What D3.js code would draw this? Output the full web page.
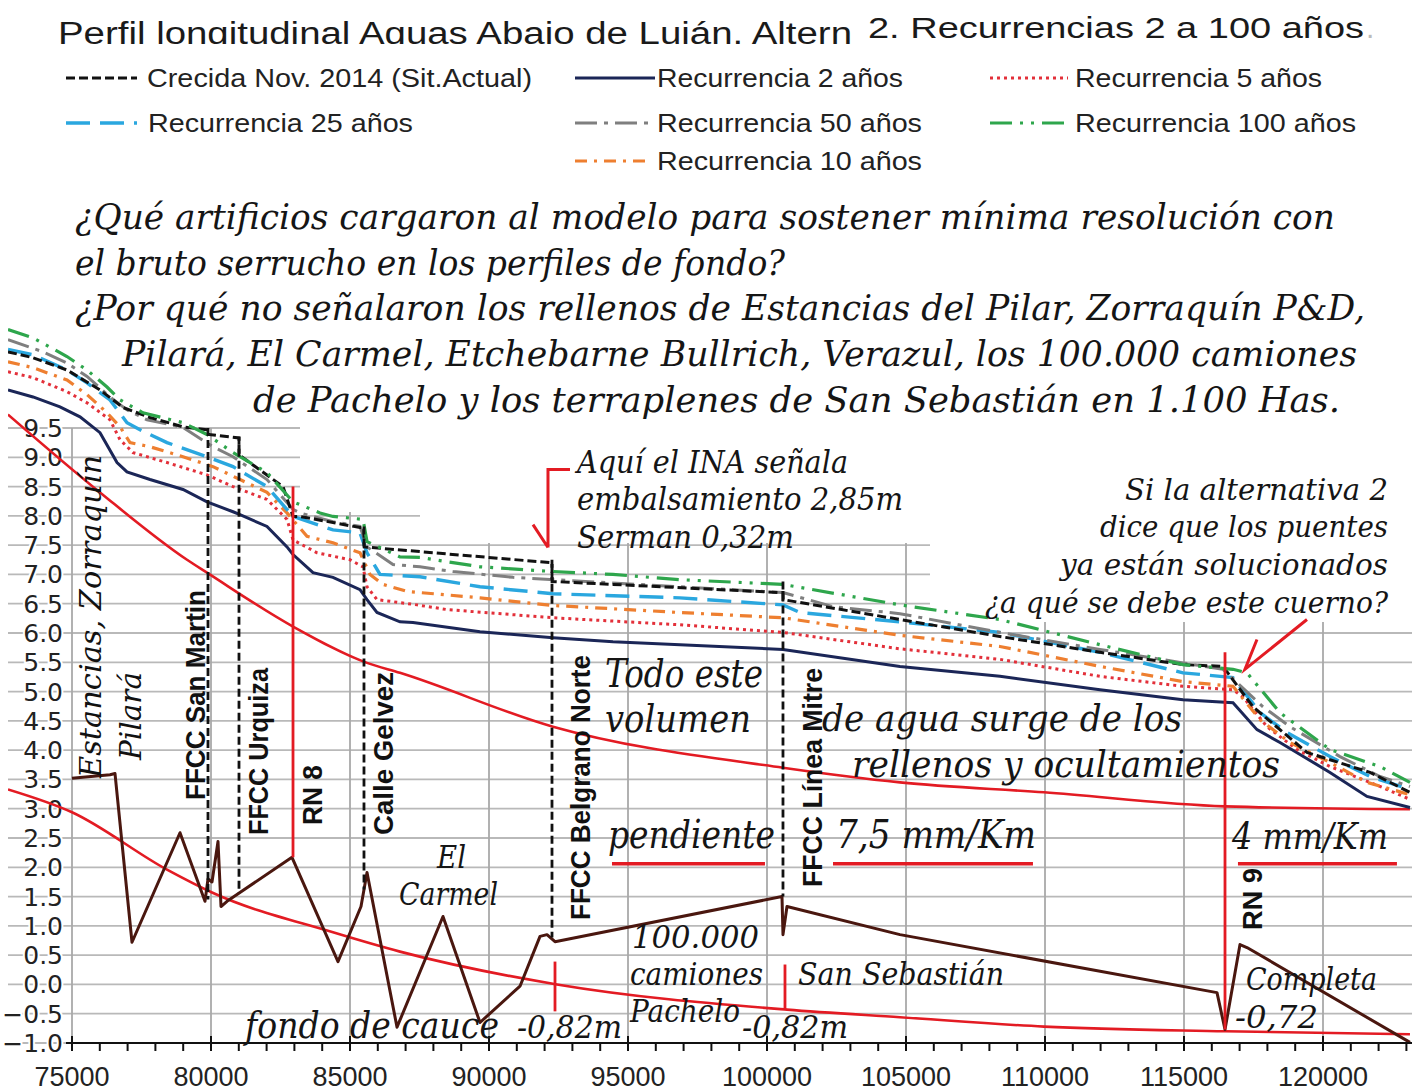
<!DOCTYPE html>
<html>
<head>
<meta charset="utf-8">
<script src="https://cdn.jsdelivr.net/npm/d3@7"></script>
<style>
body { margin: 0; background: #fff; }
</style>
</head>
<body>
<div id="chart"></div>
<script>
// progresiva (m), cota (m)
var crecida = [[72698,10.80],[73597,10.70],[74820,10.49],[76007,10.15],[76834,9.85],[77806,9.68],[78993,9.52],[79856,9.47],[79892,9.47],[79900,9.39],[81007,9.33],[81010,9.04],[82590,8.50],[82950,7.99],[83201,7.99],[85360,7.80],[85503,7.80],[85510,7.47],[92230,7.20],[92266,7.20],[92270,6.88],[100500,6.69],[100575,6.69],[100580,6.57],[104783,6.23],[108380,5.94],[111977,5.67],[114963,5.46],[116402,5.43],[117481,4.74],[118452,4.35],[119424,3.96],[121690,3.62],[123128,3.28]];
var rec2 = [[72698,10.15],[73597,10.03],[74568,9.86],[75288,9.69],[76007,9.42],[76619,8.91],[76978,8.75],[77806,8.62],[78993,8.45],[79856,8.24],[80791,8.07],[81043,8.02],[82014,7.82],[82734,7.47],[82950,7.34],[83669,7.03],[84388,6.95],[85360,6.74],[85612,6.57],[85971,6.35],[86798,6.19],[87266,6.18],[89676,6.02],[92302,5.92],[94460,5.85],[96870,5.80],[100575,5.72],[104783,5.43],[108380,5.26],[111977,5.03],[114963,4.86],[116762,4.81],[117625,4.35],[118452,4.13],[120251,3.62],[121582,3.21],[123128,3.02]];
var rec5 = [[72698,10.46],[73597,10.36],[74820,10.12],[75540,9.93],[76367,9.64],[76727,9.30],[77194,9.08],[78417,8.91],[79856,8.70],[80791,8.50],[82014,8.28],[82734,7.94],[82950,7.59],[83813,7.37],[85000,7.25],[85467,7.13],[85612,6.79],[85971,6.57],[87410,6.48],[88489,6.40],[92302,6.26],[96870,6.14],[100575,6.01],[104783,5.73],[108380,5.55],[111977,5.26],[114963,5.09],[116762,5.03],[117121,4.91],[117985,4.40],[119064,4.01],[120251,3.72],[122050,3.38],[123128,3.16]];
var rec10 = [[72698,10.63],[73597,10.53],[74820,10.32],[75540,10.07],[76259,9.76],[76727,9.52],[77086,9.25],[77806,9.18],[78993,9.01],[80072,8.84],[81043,8.62],[82014,8.40],[82734,8.05],[83453,7.65],[84388,7.54],[85360,7.37],[85719,7.00],[86187,6.83],[87050,6.71],[89676,6.60],[92302,6.47],[96870,6.35],[100575,6.26],[104783,5.96],[108380,5.77],[111977,5.43],[114963,5.17],[116762,5.09],[117733,4.52],[118812,4.13],[120251,3.79],[121582,3.45],[123128,3.24]];
var rec25 = [[72698,10.84],[73597,10.75],[74820,10.49],[75540,10.27],[76367,9.98],[76978,9.59],[77446,9.47],[78417,9.25],[79856,9.01],[80791,8.84],[82014,8.50],[82950,7.99],[84388,7.76],[85360,7.71],[85612,7.37],[86079,7.00],[87518,6.96],[89676,6.79],[92302,6.67],[96870,6.60],[100575,6.48],[101186,6.35],[104783,6.19],[108380,6.01],[111977,5.67],[114963,5.32],[116762,5.24],[117733,4.64],[118704,4.30],[120251,3.89],[121690,3.55],[123128,3.33]];
var rec50 = [[72698,11.01],[73957,10.80],[74820,10.61],[75540,10.38],[76367,10.03],[76978,9.81],[77698,9.64],[78993,9.51],[80072,9.18],[80791,9.01],[82014,8.62],[82950,8.11],[83201,8.05],[84388,7.90],[85360,7.82],[85612,7.47],[86547,7.17],[87518,7.13],[88705,7.05],[90863,6.95],[100575,6.69],[102374,6.45],[104783,6.33],[108380,6.01],[111977,5.72],[114963,5.49],[116402,5.38],[117841,4.74],[118812,4.40],[120611,3.89],[122050,3.55],[123128,3.38]];
var rec100 = [[72698,11.18],[73597,11.04],[74820,10.72],[75540,10.49],[76259,10.20],[76727,9.98],[77554,9.76],[78993,9.59],[79856,9.39],[80791,9.08],[82014,8.74],[82950,8.24],[83921,8.05],[84388,7.99],[85467,7.94],[85612,7.56],[86798,7.30],[87518,7.29],[89676,7.13],[92302,7.05],[94460,7.00],[96870,6.91],[100575,6.83],[104783,6.48],[108380,6.23],[111977,5.80],[114963,5.46],[116762,5.38],[117265,5.32],[118452,4.64],[120251,4.01],[122050,3.72],[123128,3.45]];
var fondo = [[75000,3.52],[76367,3.58],[76547,3.60],[77158,0.72],[78885,2.59],[79784,1.42],[79892,1.80],[80036,1.75],[80252,2.44],[80360,1.33],[80576,1.42],[82913,2.17],[84568,0.39],[85396,1.33],[85612,1.91],[86691,-0.73],[88345,1.16],[89676,-0.65],[91115,-0.03],[91835,0.82],[92086,0.85],[92374,0.73],[100539,1.50],[100575,0.85],[100719,1.33],[104783,0.85],[116187,-0.14],[116475,-0.77],[117014,0.68],[117265,0.63],[123128,-0.99]];
var curvaSup = [[72698,9.73],[76007,8.40],[79137,7.25],[79856,7.03],[82950,6.11],[85612,5.49],[86798,5.32],[92302,4.40],[100575,3.70],[104783,3.45],[109964,3.28],[116475,3.04],[123128,2.99]];
var curvaInf = [[72698,3.33],[75000,2.94],[78417,1.96],[80036,1.57],[84388,0.89],[86798,0.56],[92446,0.00],[100719,-0.43],[104783,-0.56],[109964,-0.72],[116475,-0.80],[123128,-0.85]];

var puentes = [
  {name: "FFCC San Martin", x: 79892, top: 9.50, bottom: 1.45},
  {name: "FFCC Urquiza", x: 81007, top: 9.35, bottom: 1.56},
  {name: "Calle Gelvez", x: 85503, top: 7.82, bottom: 1.62},
  {name: "FFCC Belgrano Norte", x: 92266, top: 7.25, bottom: 0.80},
  {name: "FFCC Línea Mitre", x: 100575, top: 6.88, bottom: 1.50}
];
var rutas = [
  {name: "RN 8", x: 82950, top: 8.50, bottom: 2.17},
  {name: "RN 9", x: 116475, top: 5.67, bottom: -0.77}
];
var tramosPendiente = [[94424, 99927], [102374, 109567], [116941, 122660]];
var cotaPendiente = 2.06;
var marcas082 = [{x: 92374, top: 0.39, bottom: -0.46}, {x: 100647, top: 0.34, bottom: -0.43}];
var flechaINA = [[92913, 8.79], [92122, 8.79], [92122, 7.46], [91583, 7.85]];
var flechaCuerno = [[119424, 6.23], [117193, 5.38], [117625, 5.89]];

var yTicks = d3.range(-1, 9.51, 0.5);
var xMajor = d3.range(75000, 120001, 5000);
var xMinor = d3.range(75000, 123001, 1000);

var width = 1424, height = 1091;
var sans = "'Liberation Sans', Arial, sans-serif";
var serif = "'DejaVu Serif', 'Liberation Serif', serif";

var svg = d3.select("#chart").append("svg")
    .attr("width", width)
    .attr("height", height);
svg.append("rect").attr("width", width).attr("height", height).attr("fill", "#fff");

var x = d3.scaleLinear().domain([75000, 120000]).range([72, 1323]);
var y = d3.scaleLinear().domain([-1, 9.5]).range([1043, 428]);

// grid
svg.append("g").selectAll("line").data(yTicks).enter().append("line")
    .attr("x1", 8).attr("x2", 1412)
    .attr("y1", function(d) { return y(d); }).attr("y2", function(d) { return y(d); })
    .attr("stroke", "#b9b9b9").attr("stroke-width", 1.8);
svg.append("g").selectAll("line").data(xMajor).enter().append("line")
    .attr("x1", function(d) { return x(d); }).attr("x2", function(d) { return x(d); })
    .attr("y1", y(9.5)).attr("y2", y(-1))
    .attr("stroke", "#a9a9a9").attr("stroke-width", 1.8);

// y labels
svg.append("g").selectAll("text").data(yTicks).enter().append("text")
    .attr("x", 63).attr("y", function(d) { return y(d) + 9; })
    .attr("text-anchor", "end")
    .style("font-family", "'DejaVu Sans', sans-serif").style("font-size", "25px")
    .attr("fill", "#222")
    .attr("stroke", "#fff").attr("stroke-width", 4).attr("paint-order", "stroke")
    .text(function(d) { return d3.format(".1f")(d); });

// blank boxes behind the annotations
[[300, 424, 630, 88], [420, 512, 510, 31], [930, 424, 494, 198]].forEach(function(b) {
  svg.append("rect").attr("x", b[0]).attr("y", b[1]).attr("width", b[2]).attr("height", b[3]).attr("fill", "#fff");
});

svg.append("clipPath").attr("id", "plot").append("rect")
    .attr("x", 8).attr("y", 0).attr("width", 1405).attr("height", 1060);
var plot = svg.append("g").attr("clip-path", "url(#plot)");

var line = d3.line().x(function(d) { return x(d[0]); }).y(function(d) { return y(d[1]); });
var smooth = d3.line().curve(d3.curveMonotoneX).x(function(d) { return x(d[0]); }).y(function(d) { return y(d[1]); });

var rojo = "#e31b23";
[curvaSup, curvaInf].forEach(function(c) {
  plot.append("path").attr("d", smooth(c)).attr("fill", "none")
      .attr("stroke", rojo).attr("stroke-width", 2.6);
});

plot.append("path").attr("d", line(fondo)).attr("fill", "none")
    .attr("stroke", "#4a170f").attr("stroke-width", 3).attr("stroke-linejoin", "round");

var series = [
  {data: rec2, color: "#1b2657", dash: null, w: 3},
  {data: rec5, color: "#e3303a", dash: "3,4", w: 3},
  {data: rec10, color: "#ee7f30", dash: "12,7,3,7", w: 3.2},
  {data: rec25, color: "#2aa7df", dash: "24,10", w: 3.4},
  {data: rec50, color: "#7f7f7f", dash: "22,7,4,7", w: 3},
  {data: crecida, color: "#111", dash: "9,4", w: 3},
  {data: rec100, color: "#2ea64c", dash: "22,8,3,8,3,8", w: 3.2}
];
series.forEach(function(s) {
  plot.append("path").attr("d", line(s.data)).attr("fill", "none")
      .attr("stroke", s.color).attr("stroke-width", s.w)
      .attr("stroke-dasharray", s.dash);
});

// bridges and roads
plot.append("g").selectAll("line").data(puentes).enter().append("line")
    .attr("x1", function(d) { return x(d.x); }).attr("x2", function(d) { return x(d.x); })
    .attr("y1", function(d) { return y(d.top); }).attr("y2", function(d) { return y(d.bottom); })
    .attr("stroke", "#111").attr("stroke-width", 2.8).attr("stroke-dasharray", "8,4");
plot.append("g").selectAll("line").data(rutas).enter().append("line")
    .attr("x1", function(d) { return x(d.x); }).attr("x2", function(d) { return x(d.x); })
    .attr("y1", function(d) { return y(d.top); }).attr("y2", function(d) { return y(d.bottom); })
    .attr("stroke", rojo).attr("stroke-width", 2.8);
plot.append("g").selectAll("line").data(marcas082).enter().append("line")
    .attr("x1", function(d) { return x(d.x); }).attr("x2", function(d) { return x(d.x); })
    .attr("y1", function(d) { return y(d.top); }).attr("y2", function(d) { return y(d.bottom); })
    .attr("stroke", rojo).attr("stroke-width", 2.8);
plot.append("g").selectAll("line").data(tramosPendiente).enter().append("line")
    .attr("x1", function(d) { return x(d[0]); }).attr("x2", function(d) { return x(d[1]); })
    .attr("y1", y(cotaPendiente)).attr("y2", y(cotaPendiente))
    .attr("stroke", rojo).attr("stroke-width", 3.5);

// x axis
var ax = svg.append("g");
ax.append("line").attr("x1", 66).attr("x2", 1412).attr("y1", y(-1)).attr("y2", y(-1))
    .attr("stroke", "#111").attr("stroke-width", 2);
ax.selectAll(".minor").data(xMinor).enter().append("line")
    .attr("x1", function(d) { return x(d); }).attr("x2", function(d) { return x(d); })
    .attr("y1", function(d) { return d % 5000 === 0 ? y(-1) - 7 : y(-1); })
    .attr("y2", y(-1) + 8)
    .attr("stroke", "#111").attr("stroke-width", 2);
ax.selectAll("text").data(xMajor).enter().append("text")
    .attr("x", function(d) { return x(d); }).attr("y", 1086)
    .attr("text-anchor", "middle")
    .style("font-family", sans).style("font-size", "27px")
    .attr("fill", "#222")
    .text(function(d) { return d; });

// title (bottom clipped as in the source)
svg.append("clipPath").attr("id", "tclip").append("rect")
    .attr("x", 0).attr("y", 0).attr("width", 862).attr("height", 44);
svg.append("text").attr("clip-path", "url(#tclip)")
    .attr("x", 58).attr("y", 44).attr("textLength", 794).attr("lengthAdjust", "spacingAndGlyphs")
    .style("font-family", sans).style("font-size", "31px").attr("fill", "#1a1a1a")
    .text("Perfil longitudinal Aguas Abajo de Luján. Altern");
svg.append("text")
    .attr("x", 868).attr("y", 38).attr("textLength", 496).attr("lengthAdjust", "spacingAndGlyphs")
    .style("font-family", sans).style("font-size", "30px").attr("fill", "#1a1a1a")
    .text("2. Recurrencias 2 a 100 años");
svg.append("text").attr("x", 1366).attr("y", 38)
    .style("font-family", sans).style("font-size", "30px").attr("fill", "#bbb").text(".");

// legend
var leyenda = [
  {s: 5, x0: 66, x1: 137, y: 78, tx: 147, tl: 385, t: "Crecida Nov. 2014 (Sit.Actual)"},
  {s: 0, x0: 575, x1: 655, y: 78, tx: 657, tl: 246, t: "Recurrencia 2 años"},
  {s: 1, x0: 990, x1: 1068, y: 78, tx: 1075, tl: 247, t: "Recurrencia 5 años"},
  {s: 3, x0: 66, x1: 137, y: 123, tx: 148, tl: 265, t: "Recurrencia 25 años"},
  {s: 4, x0: 575, x1: 652, y: 123, tx: 657, tl: 265, t: "Recurrencia 50 años"},
  {s: 6, x0: 990, x1: 1070, y: 123, tx: 1075, tl: 281, t: "Recurrencia 100 años"},
  {s: 2, x0: 575, x1: 652, y: 161, tx: 657, tl: 265, t: "Recurrencia 10 años"}
];
var lg = svg.append("g");
leyenda.forEach(function(l) {
  var s = series[l.s];
  lg.append("line").attr("x1", l.x0).attr("x2", l.x1).attr("y1", l.y).attr("y2", l.y)
      .attr("stroke", s.color).attr("stroke-width", s.w).attr("stroke-dasharray", s.dash);
  lg.append("text").attr("x", l.tx).attr("y", l.y + 9)
      .attr("textLength", l.tl).attr("lengthAdjust", "spacingAndGlyphs")
      .style("font-family", sans).style("font-size", "25px").attr("fill", "#222")
      .text(l.t);
});

// italic commentary
var bloque = [
  ["¿Qué artificios cargaron al modelo para sostener mínima resolución con", 75, 229, 1260, 36],
  ["el bruto serrucho en los perfiles de fondo?", 75, 275, 710, 36],
  ["¿Por qué no señalaron los rellenos de Estancias del Pilar, Zorraquín P&D,", 75, 320, 1290, 36],
  ["Pilará, El Carmel, Etchebarne Bullrich, Verazul, los 100.000 camiones", 122, 366, 1235, 36],
  ["de Pachelo y los terraplenes de San Sebastián en 1.100 Has.", 253, 412, 1087, 36],
  ["Aquí el INA señala", 577, 473, 271, 31],
  ["embalsamiento 2,85m", 577, 510, 326, 31],
  ["Serman 0,32m", 577, 548, 217, 31],
  ["Si la alternativa 2", 1125, 500, 263, 30],
  ["dice que los puentes", 1100, 537, 288, 30],
  ["ya están solucionados", 1060, 575, 328, 30],
  ["¿a qué se debe este cuerno?", 985, 613, 403, 30],
  ["Todo este", 605, 687, 158, 40],
  ["volumen", 605, 732, 146, 40],
  ["de agua surge de los", 822, 731, 360, 38],
  ["rellenos y ocultamientos", 852, 777, 428, 38],
  ["pendiente", 608, 848, 167, 40],
  ["7,5 mm/Km", 836, 848, 200, 40],
  ["4 mm/Km", 1232, 849, 156, 38],
  ["El", 437, 868, 29, 31],
  ["Carmel", 399, 905, 99, 31],
  ["100.000", 632, 948, 127, 31],
  ["camiones", 630, 985, 133, 31],
  ["Pachelo", 630, 1022, 110, 31],
  ["San Sebastián", 798, 985, 206, 31],
  ["Completa", 1246, 990, 131, 31],
  ["-0,72", 1235, 1028, 83, 31],
  ["fondo de cauce", 245, 1038, 254, 38],
  ["-0,82m", 517, 1038, 105, 31],
  ["-0,82m", 742, 1038, 106, 31]
];
var tg = svg.append("g");
bloque.forEach(function(b) {
  tg.append("text").attr("x", b[1]).attr("y", b[2])
      .attr("textLength", b[3]).attr("lengthAdjust", "spacingAndGlyphs")
      .style("font-family", serif).style("font-style", "italic").style("font-size", b[4] + "px")
      .attr("fill", "#151515").text(b[0]);
});

// vertical labels
var verticales = [
  ["Estancias, Zorraquín", 101, 778, 323, 30, "i"],
  ["Pilará", 141, 760, 88, 30, "i"],
  ["FFCC San Martin", 205, 800, 210, 27, "b"],
  ["FFCC Urquiza", 268, 835, 167, 27, "b"],
  ["RN 8", 322, 825, 60, 27, "b"],
  ["Calle Gelvez", 393, 835, 163, 27, "b"],
  ["FFCC Belgrano Norte", 590, 920, 265, 27, "b"],
  ["FFCC Línea Mitre", 822, 887, 219, 27, "b"],
  ["RN 9", 1262, 930, 62, 27, "b"]
];
verticales.forEach(function(v) {
  var t = tg.append("text")
      .attr("transform", "translate(" + v[1] + "," + v[2] + ") rotate(-90)")
      .attr("textLength", v[3]).attr("lengthAdjust", "spacingAndGlyphs")
      .style("font-size", v[4] + "px").attr("fill", "#111").text(v[0]);
  if (v[5] == "i") t.style("font-family", serif).style("font-style", "italic");
  else t.style("font-family", sans).style("font-weight", "bold");
});

// arrows
svg.append("path").attr("d", line(flechaINA.slice(0, 3)) + line([flechaINA[3], flechaINA[2]]))
    .attr("fill", "none").attr("stroke", rojo).attr("stroke-width", 3);
svg.append("path").attr("d", line(flechaCuerno))
    .attr("fill", "none").attr("stroke", rojo).attr("stroke-width", 3);
</script>
</body>
</html>
